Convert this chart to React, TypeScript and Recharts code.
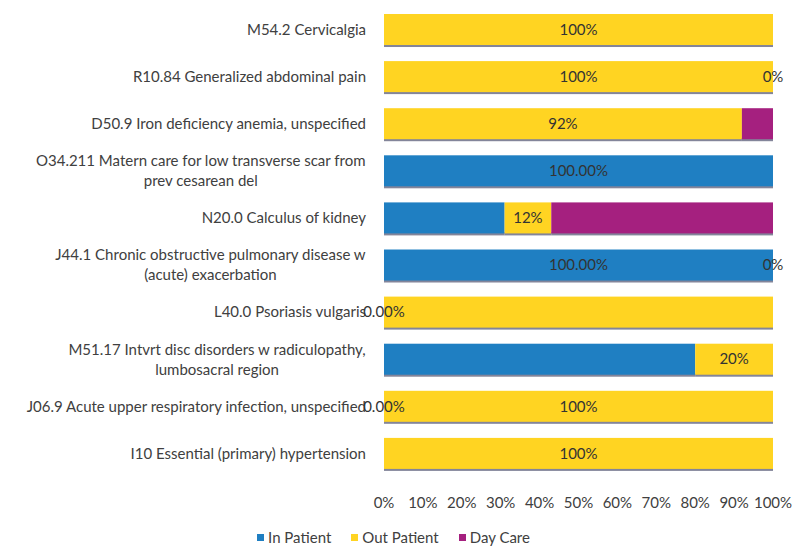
import { BarChart, Bar, XAxis, YAxis, LabelList, Legend } from "recharts"

const diagnoses = [
  "M54.2 Cervicalgia",
  "R10.84 Generalized abdominal pain",
  "D50.9 Iron deficiency anemia, unspecified",
  "O34.211 Matern care for low transverse scar from\nprev cesarean del",
  "N20.0 Calculus of kidney",
  "J44.1 Chronic obstructive pulmonary disease w\n(acute) exacerbation",
  "L40.0 Psoriasis vulgaris",
  "M51.17 Intvrt disc disorders w radiculopathy,\nlumbosacral region",
  "J06.9 Acute upper respiratory infection, unspecified",
  "I10 Essential (primary) hypertension",
]

const inPatient = [0, 0, 0, 100, 31, 100, 0, 80, 0, 0]
const outPatient = [100, 100, 92, 0, 12, 0, 100, 20, 100, 100]
const dayCare = [0, 0, 8, 0, 57, 0, 0, 0, 0, 0]

const inLabels = [null, null, null, "100.00%", null, "100.00%", "0.00%", null, "0.00%", null]
const outLabels = ["100%", "100%", "92%", null, "12%", null, null, "20%", "100%", "100%"]
const dayLabels = [null, "0%", null, null, null, "0%", null, null, null, null]

const xTicks = [0, 10, 20, 30, 40, 50, 60, 70, 80, 90, 100]

const BLUE = "#1f7fc2"
const YELLOW = "#ffd422"
const PURPLE = "#a5207f"
const FONT = "Lato, 'Open Sans', sans-serif"
const TEXT = "#404040"

const data = diagnoses.map((name, i) => ({
  name,
  inPatient: inPatient[i],
  outPatient: outPatient[i],
  dayCare: dayCare[i],
  inLabel: inLabels[i],
  outLabel: outLabels[i],
  dayLabel: dayLabels[i],
}))

let ctx: CanvasRenderingContext2D | null = null
function measure(s: string) {
  if (!ctx) {
    ctx = document.createElement("canvas").getContext("2d")
  }
  if (!ctx) return s.length * 7
  ctx.font = "15px Lato"
  return ctx.measureText(s).width
}

function DiagnosisTick(props: any) {
  const { x, y, payload } = props
  const lines: string[] = String(payload.value).split("\n")
  const right = x - 10
  if (lines.length === 1) {
    return (
      <text x={right} y={y} dy="0.35em" textAnchor="end" fontSize={15} fontFamily={FONT} fill={TEXT}>
        {lines[0]}
      </text>
    )
  }
  const w = Math.max(...lines.map(measure))
  const cx = right - w / 2
  const lh = 20
  const top = y - ((lines.length - 1) * lh) / 2
  return (
    <text textAnchor="middle" fontSize={15} fontFamily={FONT} fill={TEXT}>
      {lines.map((l, i) => (
        <tspan key={i} x={cx} y={top + i * lh} dy="0.35em">
          {l}
        </tspan>
      ))}
    </text>
  )
}

function ShadowBar(props: any) {
  const { x, y, width, height, fill } = props
  if (!width || width <= 0) return null
  return (
    <g>
      <rect x={x} y={y + height - 1} width={width} height={3} fill="#5a5c78" opacity={0.75} />
      <rect x={x} y={y} width={width} height={height} fill={fill} />
    </g>
  )
}

function SegmentLabel(props: any) {
  const { x, y, width, height, value } = props
  if (value == null) return null
  return (
    <text
      x={x + width / 2}
      y={y + height / 2}
      dy="0.35em"
      textAnchor="middle"
      fontSize={15}
      fontFamily={FONT}
      fill="#333333"
    >
      {value}
    </text>
  )
}

const legendItems = [
  { label: "In Patient", color: BLUE },
  { label: "Out Patient", color: YELLOW },
  { label: "Day Care", color: PURPLE },
]

function ChartLegend() {
  return (
    <div
      style={{
        display: "flex",
        justifyContent: "center",
        gap: 20,
        paddingLeft: 14,
        paddingTop: 4,
        fontFamily: FONT,
        fontSize: 15,
        color: TEXT,
      }}
    >
      {legendItems.map((it) => (
        <div key={it.label} style={{ display: "flex", alignItems: "center", gap: 4 }}>
          <span style={{ width: 7, height: 7, background: it.color, display: "inline-block" }} />
          <span>{it.label}</span>
        </div>
      ))}
    </div>
  )
}

export default function App() {
  return (
    <div style={{ position: "absolute", left: 0, top: 0, width: 808, height: 550, background: "#fff" }}>
      <BarChart
        width={808}
        height={550}
        data={data}
        layout="vertical"
        margin={{ top: 6, right: 35, bottom: 0, left: 0 }}
        barCategoryGap="17%"
      >
        <XAxis
          type="number"
          domain={[0, 100]}
          ticks={xTicks}
          tickFormatter={(v) => `${v}%`}
          axisLine={false}
          tickLine={false}
          height={47}
          tickMargin={14}
          tick={{ fontSize: 15, fontFamily: FONT, fill: TEXT }}
          interval={0}
        />
        <YAxis
          type="category"
          dataKey="name"
          width={384}
          axisLine={false}
          tickLine={false}
          tick={<DiagnosisTick />}
          interval={0}
        />
        <Legend verticalAlign="bottom" height={26} content={<ChartLegend />} />
        <Bar dataKey="inPatient" stackId="a" fill={BLUE} shape={<ShadowBar />} isAnimationActive={false}>
          <LabelList dataKey="inLabel" content={<SegmentLabel />} />
        </Bar>
        <Bar dataKey="outPatient" stackId="a" fill={YELLOW} shape={<ShadowBar />} isAnimationActive={false}>
          <LabelList dataKey="outLabel" content={<SegmentLabel />} />
        </Bar>
        <Bar dataKey="dayCare" stackId="a" fill={PURPLE} shape={<ShadowBar />} isAnimationActive={false}>
          <LabelList dataKey="dayLabel" content={<SegmentLabel />} />
        </Bar>
      </BarChart>
    </div>
  )
}
